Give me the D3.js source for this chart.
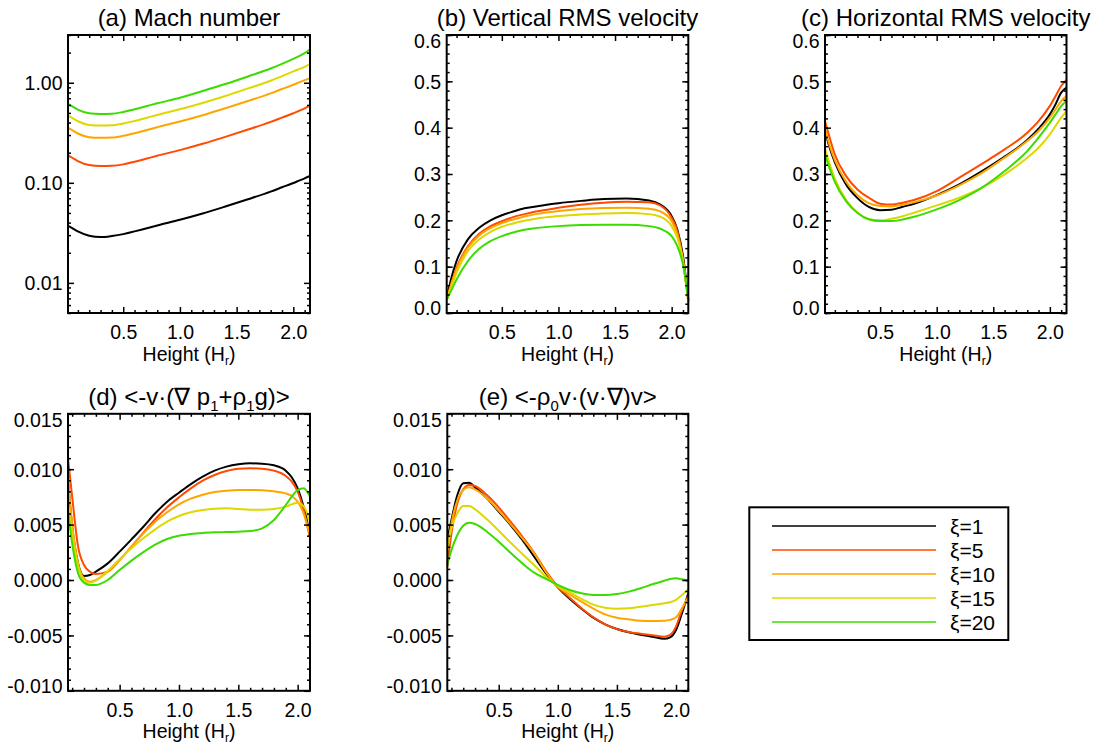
<!DOCTYPE html>
<html lang="en">
<head>
  <meta charset="UTF-8">
  <title>Convection profiles vs xi</title>
  <script src="https://cdnjs.cloudflare.com/ajax/libs/d3/7.8.5/d3.min.js"></script>
  <style>
    body {
      margin: 0;
      background: white;
    }
    svg {
      display: block;
      font-family: "Liberation Sans", Arial, Helvetica, sans-serif;
    }
  </style>
</head>
<body>
  <script>
    // ---- data ----
    var xiValues = [1, 5, 10, 15, 20];
    var colors = ["#000000", "#ff4a00", "#ffa500", "#dcd800", "#3cdc00"];

    var heightTop = [0.015, 0.05, 0.1, 0.2, 0.3, 0.4, 0.5, 0.6, 0.7, 0.8, 1.0, 1.2, 1.4, 1.6, 1.8, 1.9, 2.0, 2.05, 2.1, 2.147];
    var heightBottom = [0.065, 0.1, 0.15, 0.2, 0.25, 0.3, 0.4, 0.5, 0.6, 0.7, 0.8, 0.9, 1.0, 1.1, 1.2, 1.3, 1.4, 1.5, 1.6, 1.7, 1.8, 1.9, 1.95, 2.0, 2.05, 2.104];

    // (a) Mach number, one row per xi
    var machNumber = [
      [0.0372, 0.0353, 0.0327, 0.0296, 0.0287, 0.0294, 0.0307, 0.0327, 0.0350, 0.0375, 0.0427, 0.0493, 0.0579, 0.0685, 0.0817, 0.0902, 0.0996, 0.1051, 0.1109, 0.117],
      [0.1878, 0.1780, 0.1649, 0.1504, 0.1471, 0.1478, 0.1528, 0.1624, 0.1739, 0.1863, 0.2121, 0.2453, 0.2879, 0.3406, 0.4062, 0.4485, 0.4954, 0.5225, 0.5554, 0.5903],
      [0.3539, 0.3355, 0.3109, 0.2858, 0.2814, 0.2830, 0.2947, 0.3132, 0.3355, 0.3594, 0.4092, 0.4731, 0.5554, 0.6572, 0.7833, 0.8650, 0.9552, 1.0077, 1.0630, 1.113],
      [0.4695, 0.4450, 0.4123, 0.3791, 0.3733, 0.3760, 0.3908, 0.4154, 0.4450, 0.4768, 0.5429, 0.6275, 0.7367, 0.8781, 1.0469, 1.165, 1.297, 1.368, 1.443, 1.533],
      [0.6134, 0.5813, 0.5387, 0.4954, 0.4879, 0.4900, 0.5107, 0.5429, 0.5813, 0.6228, 0.7090, 0.8261, 0.9699, 1.156, 1.389, 1.546, 1.733, 1.842, 1.973, 2.163]
    ];

    // (b) vertical RMS velocity
    var vertRms = [
      [0.033, 0.072, 0.112, 0.159, 0.184, 0.200, 0.211, 0.219, 0.226, 0.230, 0.237, 0.242, 0.246, 0.247, 0.243, 0.234, 0.209, 0.180, 0.123, 0.029],
      [0.030, 0.0615, 0.0976, 0.144, 0.171, 0.1875, 0.198, 0.207, 0.2134, 0.219, 0.227, 0.2336, 0.238, 0.240, 0.239, 0.232, 0.2055, 0.177, 0.1155, 0.0275],
      [0.030, 0.0583, 0.094, 0.1407, 0.1674, 0.1832, 0.1940, 0.2019, 0.2084, 0.2134, 0.2199, 0.2242, 0.2264, 0.2271, 0.2249, 0.2192, 0.1983, 0.1695, 0.1120, 0.0220],
      [0.030, 0.0543, 0.0868, 0.1335, 0.1587, 0.1753, 0.1861, 0.1933, 0.1990, 0.2034, 0.2091, 0.2127, 0.2149, 0.2156, 0.2134, 0.2077, 0.1875, 0.1623, 0.1120, 0.0256],
      [0.030, 0.0471, 0.0724, 0.1120, 0.1386, 0.1551, 0.1659, 0.1739, 0.1796, 0.1832, 0.1875, 0.1897, 0.1904, 0.1904, 0.1875, 0.1818, 0.1659, 0.1443, 0.1048, 0.0295]
    ];

    // (c) horizontal RMS velocity
    var horizRms = [
      [0.392, 0.360, 0.325, 0.277, 0.248, 0.229, 0.222, 0.223, 0.2293, 0.2358, 0.2545, 0.2775, 0.306, 0.3374, 0.3733, 0.3978, 0.4287, 0.4503, 0.4756, 0.4864],
      [0.412, 0.382, 0.342, 0.2955, 0.2667, 0.2488, 0.236, 0.234, 0.238, 0.2437, 0.263, 0.292, 0.322, 0.353, 0.389, 0.414, 0.447, 0.468, 0.490, 0.503],
      [0.395, 0.365, 0.330, 0.283, 0.254, 0.237, 0.231, 0.230, 0.2337, 0.2387, 0.2535, 0.2753, 0.3024, 0.3352, 0.3711, 0.3927, 0.4215, 0.4395, 0.4575, 0.468],
      [0.353, 0.325, 0.290, 0.244, 0.217, 0.2025, 0.2000, 0.2034, 0.209, 0.2164, 0.2322, 0.2488, 0.2704, 0.2991, 0.3352, 0.3568, 0.3855, 0.4035, 0.4216, 0.4359],
      [0.340, 0.315, 0.283, 0.241, 0.216, 0.2025, 0.1985, 0.1983, 0.2019, 0.2077, 0.2236, 0.2437, 0.2704, 0.3063, 0.3495, 0.3784, 0.4108, 0.4287, 0.4467, 0.4575]
    ];

    // (d) <-v.(grad p1 + rho1 g)>
    var workPressure = [
      [0.0090, 0.0048, 0.0015, 0.00036, 0.00045, 0.00075, 0.0015, 0.00256, 0.00367, 0.00481, 0.00602, 0.00707, 0.00788, 0.00866, 0.00933, 0.00987, 0.01023, 0.01044, 0.01053, 0.0105, 0.01035, 0.00987, 0.00927, 0.00827, 0.00662, 0.00406],
      [0.01098, 0.00752, 0.00301, 0.00135, 0.00075, 0.00054, 0.00075, 0.0018, 0.00301, 0.00427, 0.00548, 0.00656, 0.00746, 0.00827, 0.00896, 0.00948, 0.00984, 0.01005, 0.01008, 0.01005, 0.00987, 0.00939, 0.00887, 0.00797, 0.00632, 0.00376],
      [0.0092, 0.0051, 0.0015, 0.00015, -0.00015, 0.0, 0.00075, 0.0018, 0.00301, 0.00421, 0.00526, 0.00611, 0.00683, 0.00734, 0.0077, 0.00794, 0.00806, 0.00812, 0.00812, 0.00809, 0.008, 0.00782, 0.00758, 0.00707, 0.00602, 0.00406],
      [0.0070, 0.0042, 0.0012, 0.0, -0.00024, -0.00006, 0.00084, 0.00187, 0.00286, 0.00376, 0.00457, 0.00526, 0.00578, 0.00611, 0.00632, 0.00644, 0.00647, 0.00641, 0.00635, 0.00635, 0.00641, 0.00662, 0.00683, 0.00698, 0.00668, 0.00526],
      [0.0062, 0.0033, 0.0006, -0.00024, -0.00045, -0.00045, 0.0, 0.0009, 0.00175, 0.00252, 0.0032, 0.0037, 0.0040, 0.00416, 0.00425, 0.0043, 0.00433, 0.00436, 0.00442, 0.00466, 0.00542, 0.00677, 0.00752, 0.00812, 0.00827, 0.00752]
    ];

    // (e) <-rho0 v.(v.grad)v>
    var workAdvect = [
      [0.0036, 0.00542, 0.00767, 0.00873, 0.00878, 0.00836, 0.00737, 0.00617, 0.00496, 0.00361, 0.0021, 0.0006, -0.00065, -0.0017, -0.0026, -0.00340, -0.0040, -0.00442, -0.00472, -0.00494, -0.00512, -0.0053, -0.00517, -0.00451, -0.00301, -0.0012],
      [0.0012, 0.0042, 0.00692, 0.00818, 0.00857, 0.00848, 0.00767, 0.00656, 0.00526, 0.00391, 0.00246, 0.0008, -0.0006, -0.0016, -0.00255, -0.00336, -0.00400, -0.00443, -0.00469, -0.00485, -0.00499, -0.00512, -0.00496, -0.00421, -0.00271, -0.0015],
      [0.0026, 0.0051, 0.0072, 0.00812, 0.00836, 0.00818, 0.00737, 0.00626, 0.00505, 0.00376, 0.00241, 0.0007, -0.0006, -0.0013, -0.00195, -0.00258, -0.0031, -0.0034, -0.00355, -0.00367, -0.0037, -0.00367, -0.0036, -0.00337, -0.00256, -0.0015],
      [0.0028, 0.00466, 0.00602, 0.00668, 0.00668, 0.00638, 0.00548, 0.00445, 0.00337, 0.00235, 0.00135, 0.0003, -0.00055, -0.0011, -0.0017, -0.00222, -0.0025, -0.00259, -0.00256, -0.00241, -0.00226, -0.0021, -0.00201, -0.0018, -0.00135, -0.00084],
      [0.0014, 0.0027, 0.00406, 0.0049, 0.00517, 0.00505, 0.00436, 0.00346, 0.00246, 0.0015, 0.00066, 0.0001, -0.00045, -0.0009, -0.0012, -0.00135, -0.00135, -0.00126, -0.00105, -0.00075, -0.00039, -0.00006, 0.00009, 0.00015, 0.00006, -0.00006]
    ];

    var xMajor = [0.5, 1.0, 1.5, 2.0];
    var velTicks = [0, 0.1, 0.2, 0.3, 0.4, 0.5, 0.6];
    var workTicks = [-0.010, -0.005, 0, 0.005, 0.010, 0.015];
    var machTicks = [0.01, 0.1, 1];

    // ---- layout ----
    var w = 1101;
    var h = 752;
    var tickFont = 19.5;

    var svg = d3.select("body").append("svg")
      .attr("width", w)
      .attr("height", h);

    function range(a, b, step) {
      var out = [];
      var n = Math.round((b - a) / step);
      for (var i = 0; i <= n; i++) out.push(+(a + i * step).toFixed(6));
      return out;
    }

    function logMinor(domain) {
      var out = [];
      [0.001, 0.01, 0.1, 1].forEach(function(dec) {
        for (var k = 2; k <= 9; k++) {
          var v = +(k * dec).toPrecision(3);
          if (v >= domain[0] && v <= domain[1]) out.push(v);
        }
      });
      return out;
    }

    function addTitle(g, parts, x, y, size) {
      var t = g.append("text")
        .attr("x", x)
        .attr("y", y)
        .attr("text-anchor", "middle")
        .attr("font-size", size);
      var shift = 0;
      parts.forEach(function(p) {
        var sub = p[1] === "sub";
        var target = sub ? size * 0.25 : 0;
        t.append("tspan")
          .attr("dy", target - shift)
          .attr("font-size", sub ? size * 0.62 : size)
          .text(p[0]);
        shift = target;
      });
    }

    function drawPanel(p) {
      var g = svg.append("g");
      var x0 = p.left, x1 = p.left + p.width;
      var y0 = p.top, y1 = p.top + p.height;

      var xScale = d3.scaleLinear().domain(p.xDomain).range([x0, x1]);
      var yScale = (p.log ? d3.scaleLog() : d3.scaleLinear())
        .domain(p.yDomain)
        .range([y1, y0]);

      addTitle(g, p.title, (x0 + x1) / 2, y0 - 9, 24);

      p.series.forEach(function(vals, i) {
        var line = d3.line()
          .x(function(d, j) { return xScale(p.heights[j]); })
          .y(function(d) { return yScale(d); })
          .curve(d3.curveMonotoneX);
        g.append("path")
          .datum(vals)
          .attr("d", line)
          .attr("fill", "none")
          .attr("stroke", colors[i])
          .attr("stroke-width", 2);
      });

      var blank = function() { return ""; };
      var xMinor = range(0.1, 2.1, 0.1).filter(function(v) {
        return xMajor.indexOf(v) < 0 && v >= p.xDomain[0] && v <= p.xDomain[1];
      });

      function axis(fn, scale, values, size, transform, fmt) {
        var a = fn(scale)
          .tickValues(values)
          .tickSizeInner(-size)
          .tickSizeOuter(0)
          .tickPadding(5.5)
          .tickFormat(fmt || blank);
        var ag = g.append("g")
          .attr("transform", transform)
          .call(a);
        ag.select(".domain").remove();
        ag.selectAll("line").attr("stroke", "#000").attr("stroke-width", 1.5);
        ag.attr("font-size", tickFont)
          .attr("font-family", "Liberation Sans, Arial, Helvetica, sans-serif");
        ag.selectAll("text").attr("fill", "#000");
        return ag;
      }

      // x axes: bottom (labelled) and top
      var bx = axis(d3.axisBottom, xScale, xMajor, 6, "translate(0," + y1 + ")", d3.format(".1f"));
      bx.selectAll("text").attr("y", 26).attr("dy", null);
      axis(d3.axisBottom, xScale, xMinor, 3, "translate(0," + y1 + ")");
      axis(d3.axisTop, xScale, xMajor, 6, "translate(0," + y0 + ")");
      axis(d3.axisTop, xScale, xMinor, 3, "translate(0," + y0 + ")");

      // y axes: left (labelled) and right
      var ly = axis(d3.axisLeft, yScale, p.yMajor, 6, "translate(" + x0 + ",0)", p.yFormat);
      ly.selectAll("text").attr("dy", "0.35em");
      if (!p.log) {
        ly.selectAll(".tick").each(function(d) {
          var nudge = 0;
          if (d === p.yDomain[0]) nudge = -5.5;
          if (d === p.yDomain[1]) nudge = 5.5;
          d3.select(this).select("text").attr("y", nudge);
        });
      }
      axis(d3.axisLeft, yScale, p.yMinor, 3, "translate(" + x0 + ",0)");
      axis(d3.axisRight, yScale, p.yMajor, 6, "translate(" + x1 + ",0)");
      axis(d3.axisRight, yScale, p.yMinor, 3, "translate(" + x1 + ",0)");

      g.append("rect")
        .attr("x", x0)
        .attr("y", y0)
        .attr("width", x1 - x0)
        .attr("height", y1 - y0)
        .attr("fill", "none")
        .attr("stroke", "#000")
        .attr("stroke-width", 2);

      var xt = g.append("text")
        .attr("x", (x0 + x1) / 2)
        .attr("y", y1 + 47.5)
        .attr("text-anchor", "middle")
        .attr("font-size", tickFont);
      xt.append("tspan").text("Height (H");
      xt.append("tspan").attr("dy", 4).attr("font-size", 12).text("r");
      xt.append("tspan").attr("dy", -4).text(")");
    }

    var topRow = 35, topH = 278;
    var botRow = 413.8, botH = 277;
    var fmt1 = d3.format(".1f");
    var fmt3 = function(d) { return d.toFixed(3); };

    var panels = [
      {
        title: [["(a) Mach number", ""]],
        left: 68, width: 242, top: topRow, height: topH,
        heights: heightTop, xDomain: [0.013, 2.147],
        log: true, yDomain: [0.005, 3.0],
        yMajor: machTicks, yMinor: logMinor([0.005, 3.0]),
        yFormat: d3.format(".2f"), series: machNumber
      },
      {
        title: [["(b) Vertical RMS velocity", ""]],
        left: 446.7, width: 241.6, top: topRow, height: topH,
        heights: heightTop, xDomain: [0.013, 2.147],
        yDomain: [0, 0.6], yMajor: velTicks, yMinor: range(0, 0.6, 0.02),
        yFormat: fmt1, series: vertRms
      },
      {
        title: [["(c) Horizontal RMS velocity", ""]],
        left: 825, width: 241.5, top: topRow, height: topH,
        heights: heightTop, xDomain: [0.013, 2.147],
        yDomain: [0, 0.6], yMajor: velTicks, yMinor: range(0, 0.6, 0.02),
        yFormat: fmt1, series: horizRms
      },
      {
        title: [["(d) <-v\u00b7(\u2207 p", ""], ["1", "sub"], ["+\u03c1", ""], ["1", "sub"], ["g)>", ""]],
        left: 68, width: 242, top: botRow, height: botH,
        heights: heightBottom, xDomain: [0.065, 2.104],
        yDomain: [-0.010, 0.015], yMajor: workTicks, yMinor: range(-0.010, 0.015, 0.001),
        yFormat: fmt3, series: workPressure
      },
      {
        title: [["(e) <-\u03c1", ""], ["0", "sub"], ["v\u00b7(v\u00b7\u2207)v>", ""]],
        left: 447.3, width: 241, top: botRow, height: botH,
        heights: heightBottom, xDomain: [0.065, 2.104],
        yDomain: [-0.010, 0.015], yMajor: workTicks, yMinor: range(-0.010, 0.015, 0.001),
        yFormat: fmt3, series: workAdvect
      }
    ];

    panels.forEach(drawPanel);

    // ---- legend ----
    var legend = svg.append("g");
    legend.append("rect")
      .attr("x", 749.3)
      .attr("y", 507.3)
      .attr("width", 259)
      .attr("height", 132.7)
      .attr("fill", "none")
      .attr("stroke", "#000")
      .attr("stroke-width", 2);

    var rowY = d3.scaleLinear().domain([0, 4]).range([526, 622]);
    xiValues.forEach(function(xi, i) {
      legend.append("line")
        .attr("x1", 772)
        .attr("x2", 936)
        .attr("y1", rowY(i))
        .attr("y2", rowY(i))
        .attr("stroke", colors[i])
        .attr("stroke-width", 1.6);
      legend.append("text")
        .attr("x", 950)
        .attr("y", rowY(i) + 7.5)
        .attr("font-size", 21)
        .text("\u03be=" + xi);
    });
  </script>
</body>
</html>
